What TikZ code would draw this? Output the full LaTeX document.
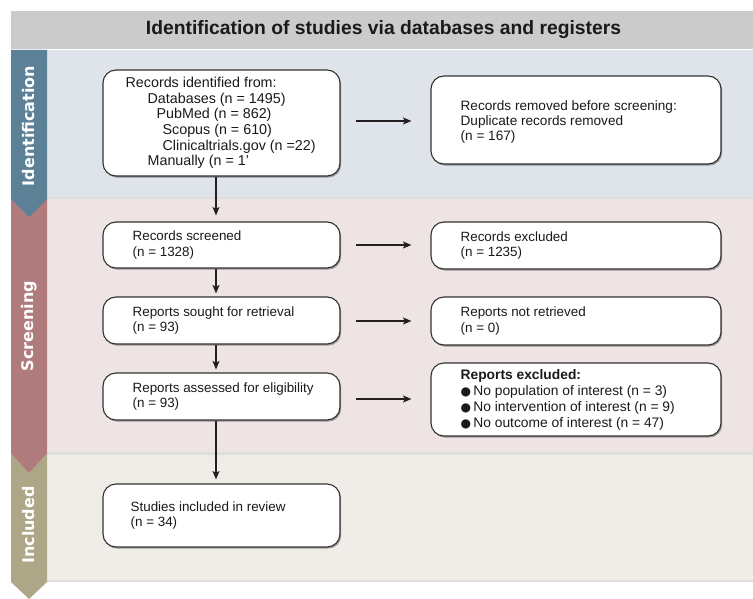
\documentclass[tikz,border=0pt]{standalone}
\usepackage{fontspec}
\setmainfont{Liberation Sans}
\newfontfamily\sidefont{DejaVu Sans}
\usetikzlibrary{arrows.meta,calc,shadows}
\definecolor{hdr}{HTML}{CBCBCB}
\definecolor{idband}{HTML}{DEE4E9}
\definecolor{scband}{HTML}{EFE4E4}
\definecolor{inband}{HTML}{F0EDE9}
\definecolor{idstrip}{HTML}{5C8197}
\definecolor{scstrip}{HTML}{B07B7D}
\definecolor{instrip}{HTML}{ADA787}
\definecolor{boxline}{HTML}{333333}
\definecolor{arrcol}{HTML}{231F20}
\definecolor{txtcol}{HTML}{1A1A1A}
\newcommand{\bul}{{\sidefont\fontsize{12}{12}\selectfont ●}}
\begin{document}
\begin{tikzpicture}[x=1pt,y=-1pt,
  box/.style={draw=boxline, line width=1.1pt, fill=white, rounded corners=13pt,
    minimum width=237pt, inner sep=0pt,
    drop shadow={shadow xshift=1.2pt, shadow yshift=-1.6pt, opacity=0.35, fill=black}},
  rbox/.style={box, minimum width=290pt},
  txt/.style={anchor=west, align=left, inner sep=0pt,
    font=\fontsize{13.4}{15.8}\selectfont, text=txtcol},
  arr/.style={draw=arrcol, line width=1.6pt, -{Stealth[length=8.5pt,width=7pt,inset=2pt]}},
  side/.style={rotate=90, text=white, inner sep=0pt,
    font=\sidefont\bfseries\fontsize{16}{16}\selectfont},
  bshadow/.style={fill=black, opacity=0.13}]
\useasboundingbox (0,0) rectangle (753,599);
% bands
\fill[hdr] (11,11) rectangle (753,49);
\node[font=\bfseries\fontsize{19.3}{21}\selectfont, text=txtcol] (title) at (383.5,30)
  {Identification of studies via databases and registers};
\fill[idband] (11,50) rectangle (753,197);
\fill[bshadow] (47,197) rectangle (753,199);
\fill[scband] (11,199) rectangle (753,452);
\fill[bshadow] (47,452) rectangle (753,454.5);
\fill[inband] (11,454.5) rectangle (753,580);
\fill[bshadow] (47,580) rectangle (753,582);
% strips
\fill[instrip] (11,453) -- (47,453) -- (47,582) -- (29,599) -- (11,582) -- cycle;
\fill[scstrip] (11,199) -- (47,199) -- (47,453) -- (29,473) -- (11,453) -- cycle;
\fill[idstrip] (11,50) -- (47,50) -- (47,199) -- (29,217) -- (11,199) -- cycle;
\node[side] (lid) at (29,126) {Identification};
\node[side] (lsc) at (29,326) {Screening};
\node[side] (lin) at (29,525) {Included};
% boxes
\node[box, minimum height=106pt] (b1) at (221.5,123) {};
\node[rbox, minimum height=88pt] (b2) at (576,120) {};
\node[box, minimum height=46pt] (b3) at (221.5,245) {};
\node[rbox, minimum height=47pt] (b4) at (576,245.5) {};
\node[box, minimum height=47pt] (b5) at (221.5,320.5) {};
\node[rbox, minimum height=48pt] (b6) at (576,321) {};
\node[box, minimum height=47pt] (b7) at (221.5,396.5) {};
\node[rbox, minimum height=73pt] (b8) at (576,399.5) {};
\node[box, minimum height=63pt] (b9) at (221.5,515.5) {};
% texts
\node[txt, font=\fontsize{14.3}{15.6}\selectfont] (t1) at ($(b1.west)+(23,0)$) {Records identified from:\\
  \hspace*{22pt}Databases (n = 1495)\\
  \hspace*{31pt}PubMed (n = 862)\\
  \hspace*{37pt}Scopus (n = 610)\\
  \hspace*{37pt}Clinicaltrials.gov (n =22)\\
  \hspace*{22pt}Manually (n = 1'};
\node[txt, font=\fontsize{13.6}{15.2}\selectfont] (t2) at ($(b2.west)+(30,2)$)
  {Records removed before screening:\\Duplicate records removed\\(n = 167)};
\node[txt] (t3) at ($(b3.west)+(30,0)$) {Records screened\\(n = 1328)};
\node[txt] (t4) at ($(b4.west)+(30,0)$) {Records excluded\\(n = 1235)};
\node[txt] (t5) at ($(b5.west)+(30,0)$) {Reports sought for retrieval\\(n = 93)};
\node[txt] (t6) at ($(b6.west)+(30,0)$) {Reports not retrieved\\(n = 0)};
\node[txt] (t7) at ($(b7.west)+(30,0)$) {Reports assessed for eligibility\\(n = 93)};
\node[txt, font=\fontsize{13.8}{16}\selectfont] (t8) at ($(b8.west)+(30,0)$) {\textbf{Reports excluded:}\\
  \bul\,No population of interest (n = 3)\\
  \bul\,No intervention of interest (n = 9)\\
  \bul\,No outcome of interest (n = 47)};
\node[txt] (t9) at ($(b9.west)+(28,0)$) {Studies included in review\\(n = 34)};
% horizontal arrows
\draw[arr] ($(b1.east |- b2.west)+(15,1)$) -- ($(b2.west)+(-19,1)$);
\draw[arr] ($(b3.east |- b4.west)+(15,-0.5)$) -- ($(b4.west)+(-19,-0.5)$);
\draw[arr] ($(b5.east |- b6.west)+(15,0)$) -- ($(b6.west)+(-19,0)$);
\draw[arr] ($(b7.east |- b8.west)+(15,-0.5)$) -- ($(b8.west)+(-19,-0.5)$);
% vertical arrows
\draw[arr] ($(b1.south)+(-5.5,0)$) -- ($(b3.north)+(-5.5,-6)$);
\draw[arr] ($(b3.south)+(-5.5,0)$) -- ($(b5.north)+(-5.5,-3)$);
\draw[arr] ($(b5.south)+(-5.5,0)$) -- ($(b7.north)+(-5.5,-3)$);
\draw[arr] ($(b7.south)+(-5.5,0)$) -- ($(b9.north)+(-5.5,-4)$);
\end{tikzpicture}
\end{document}
